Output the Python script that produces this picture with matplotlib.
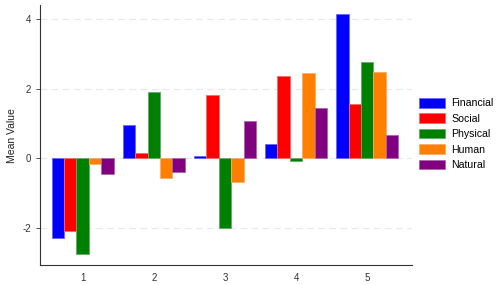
import numpy as np
import matplotlib.pyplot as plt

plt.rcParams['font.family'] = ['Liberation Sans', 'DejaVu Sans']
plt.rcParams['axes.unicode_minus'] = False

groups = [1, 2, 3, 4, 5]
series = ['Financial', 'Social', 'Physical', 'Human', 'Natural']
colors = ['#0000ff', '#ff0000', '#008000', '#ff8000', '#800080']
edges = ['#6666ff', '#ff6666', '#66aa66', '#ffaa66', '#aa66aa']

financial = [-2.30, 0.96, 0.05, 0.39, 4.14]
social = [-2.10, 0.14, 1.80, 2.35, 1.55]
physical = [-2.76, 1.91, -2.00, -0.10, 2.75]
human = [-0.18, -0.57, -0.70, 2.45, 2.47]
natural = [-0.46, -0.39, 1.06, 1.43, 0.65]
values = [financial, social, physical, human, natural]

fig = plt.figure(figsize=(5, 2.85), dpi=100)
ax = fig.add_axes([0.08, 0.07, 0.744, 0.912])

x = np.array(groups, dtype=float)
w = 0.175
for i, (name, vals) in enumerate(zip(series, values)):
    ax.bar(x + (i - 2) * w, vals, width=w, color=colors[i],
           edgecolor=edges[i], linewidth=0.6, label=name, zorder=3)

ax.set_xlim(0.4, 5.63)
ax.set_ylim(-3.08, 4.4)
ax.set_xticks(groups)
ax.set_yticks([-2, 0, 2, 4])
ax.yaxis.grid(True, color='#e8e8e8', linestyle=(0, (6, 4)), linewidth=0.8, zorder=0)
for s in ['top', 'right']:
    ax.spines[s].set_visible(False)
for s in ['left', 'bottom']:
    ax.spines[s].set_color('#333333')
    ax.spines[s].set_linewidth(0.8)
ax.tick_params(axis='x', length=0, labelsize=7, colors='#333333', pad=6)
ax.tick_params(axis='y', length=3, width=0.6, labelsize=7, colors='#333333')
ax.set_ylabel('Mean Value', fontsize=7.5, color='#222222', labelpad=4)

ax.legend(loc='center left', bbox_to_anchor=(0.818, 0.53), bbox_transform=fig.transFigure,
          frameon=False, fontsize=7.6, handlelength=2.5, handleheight=1.05,
          labelspacing=0.47, handletextpad=0.6)

fig.savefig('out.png', dpi=100)
